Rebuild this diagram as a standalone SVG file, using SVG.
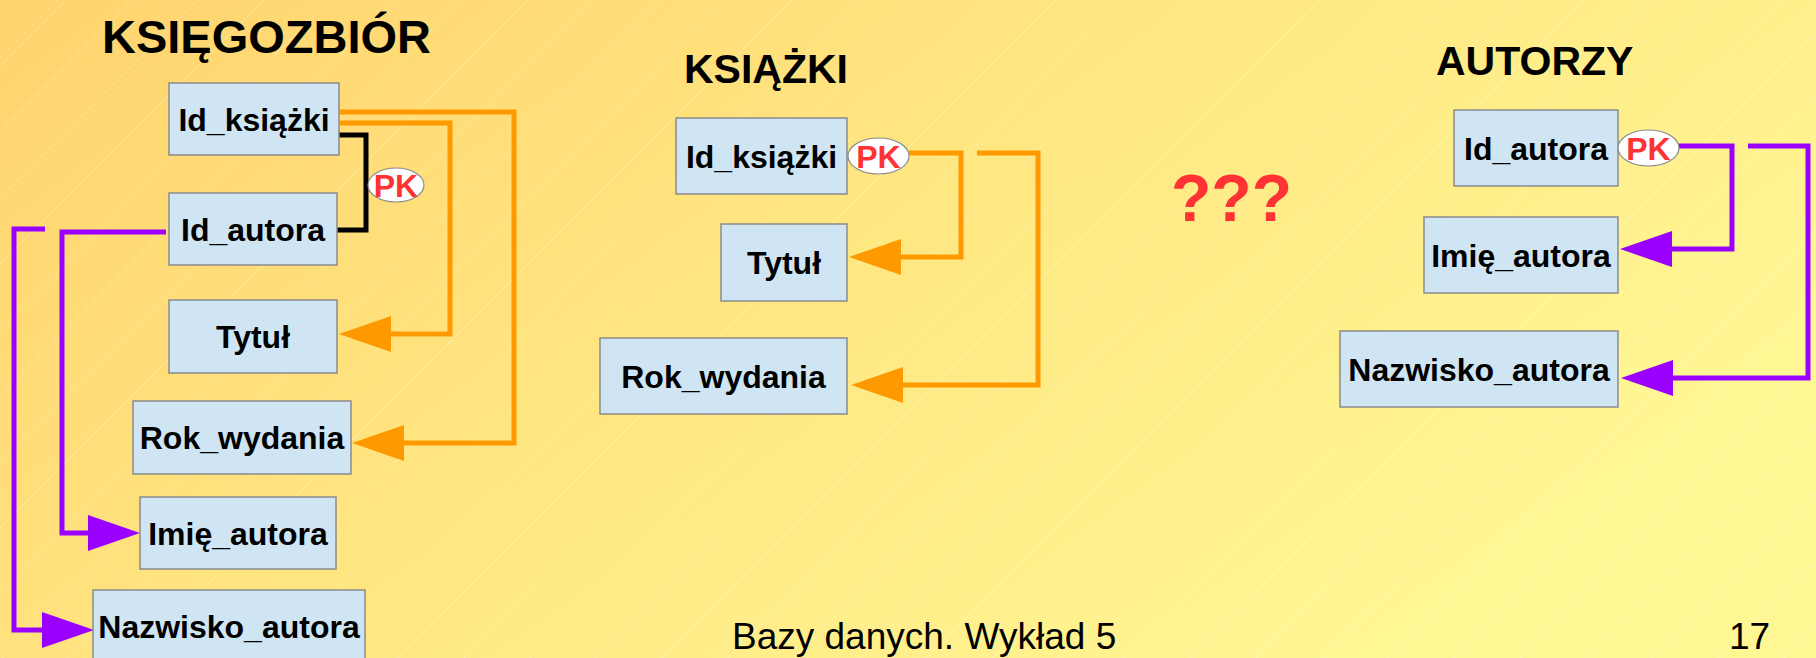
<svg xmlns="http://www.w3.org/2000/svg" width="1816" height="658" viewBox="0 0 1816 658">
  <defs>
    <linearGradient id="bg" x1="0" y1="0" x2="1" y2="0.5">
      <stop offset="0" stop-color="#FFD36E"/>
      <stop offset="0.5" stop-color="#FFE681"/>
      <stop offset="1" stop-color="#FFF794"/>
    </linearGradient>
    <pattern id="stripes" patternUnits="userSpaceOnUse" width="66" height="66">
      <line x1="-1" y1="67" x2="67" y2="-1" stroke="#FFFFFF" stroke-opacity="0.3" stroke-width="1"/>
    </pattern>
    <marker id="arrOrange" viewBox="0 0 52 36" refX="0" refY="18" markerWidth="52" markerHeight="36" markerUnits="userSpaceOnUse" orient="auto">
      <path d="M0,0 L52,18 L0,36 Z" fill="#FF9900"/>
    </marker>
    <marker id="arrPurple" viewBox="0 0 52 36" refX="0" refY="18" markerWidth="52" markerHeight="36" markerUnits="userSpaceOnUse" orient="auto">
      <path d="M0,0 L52,18 L0,36 Z" fill="#9900FF"/>
    </marker>
  </defs>
  <style>
    .box { fill: #CFE5F3; stroke: #8A8A8A; stroke-width: 1.5; }
    .lbl { font-family: "Liberation Sans", Arial, sans-serif; font-weight: bold; font-size: 32px; fill: #000; text-anchor: middle; }
    .title { font-family: "Liberation Sans", Arial, sans-serif; font-weight: bold; fill: #000; }
    .pk { fill: #FFFFFF; stroke: #8A8A8A; stroke-width: 1.2; }
    .pkt { font-family: "Liberation Sans", Arial, sans-serif; font-weight: bold; font-size: 32px; fill: #FF3333; text-anchor: middle; }
    .foot { font-family: "Liberation Sans", Arial, sans-serif; font-size: 37px; fill: #000; }
    .or { fill: none; stroke: #FF9900; stroke-width: 5; stroke-linejoin: miter; }
    .pu { fill: none; stroke: #9900FF; stroke-width: 5; stroke-linejoin: miter; }
    .bk { fill: none; stroke: #000; stroke-width: 5; stroke-linejoin: miter; }
  </style>

  <!-- background -->
  <rect x="0" y="0" width="1816" height="658" fill="url(#bg)"/>
  <rect x="0" y="0" width="1816" height="658" fill="url(#stripes)"/>

  <!-- table titles -->
  <text class="title" x="102" y="53" font-size="47">KSIĘGOZBIÓR</text>
  <text class="title" x="684" y="83" font-size="41">KSIĄŻKI</text>
  <text class="title" x="1436" y="75" font-size="41">AUTORZY</text>
  <text x="1171" y="221" font-family="Liberation Sans, Arial, sans-serif" font-weight="bold" font-size="66" fill="#FF3333">???</text>

  <!-- connectors -->
  <g id="connectors">
    <!-- KSIĘGOZBIÓR -->
    <path class="bk" d="M339,135 H366 V230 H337"/>
    <path class="or" d="M340,112 H514 V443 H404" marker-end="url(#arrOrange)"/>
    <path class="or" d="M340,123 H450 V334 H391" marker-end="url(#arrOrange)"/>
    <path class="pu" d="M166,232 H62 V533 H88" marker-end="url(#arrPurple)"/>
    <path class="pu" d="M45,229 H14 V630 H42" marker-end="url(#arrPurple)"/>
    <!-- KSIĄŻKI -->
    <path class="or" d="M909,153 H961 V257 H901" marker-end="url(#arrOrange)"/>
    <path class="or" d="M977,153 H1038 V385 H903" marker-end="url(#arrOrange)"/>
    <!-- AUTORZY -->
    <path class="pu" d="M1679,146 H1732 V249 H1672" marker-end="url(#arrPurple)"/>
    <path class="pu" d="M1748,146 H1808 V378 H1673" marker-end="url(#arrPurple)"/>
  </g>

  <!-- KSIĘGOZBIÓR columns -->
  <g id="kz-id-ksiazki">
    <rect class="box" x="169" y="83" width="170" height="72"/>
    <text class="lbl" x="254" y="130.5">Id_książki</text>
  </g>
  <g id="kz-id-autora">
    <rect class="box" x="169" y="193" width="168" height="72"/>
    <text class="lbl" x="253" y="240.5">Id_autora</text>
  </g>
  <g id="kz-pk">
    <ellipse class="pk" cx="396" cy="185" rx="28" ry="17"/>
    <text class="pkt" x="396" y="196.5">PK</text>
  </g>
  <g id="kz-tytul">
    <rect class="box" x="169" y="300" width="168" height="73"/>
    <text class="lbl" x="253" y="348">Tytuł</text>
  </g>
  <g id="kz-rok">
    <rect class="box" x="133" y="401" width="218" height="73"/>
    <text class="lbl" x="242" y="449">Rok_wydania</text>
  </g>
  <g id="kz-imie">
    <rect class="box" x="140" y="497" width="196" height="72"/>
    <text class="lbl" x="238" y="544.5">Imię_autora</text>
  </g>
  <g id="kz-nazwisko">
    <rect class="box" x="93" y="590" width="272" height="72"/>
    <text class="lbl" x="229" y="637.5">Nazwisko_autora</text>
  </g>

  <!-- KSIĄŻKI columns -->
  <g id="ks-id-ksiazki">
    <rect class="box" x="676" y="118" width="171" height="76"/>
    <text class="lbl" x="761.5" y="167.5">Id_książki</text>
  </g>
  <g id="ks-pk">
    <ellipse class="pk" cx="878.5" cy="156" rx="30.5" ry="18"/>
    <text class="pkt" x="878.5" y="167.5">PK</text>
  </g>
  <g id="ks-tytul">
    <rect class="box" x="721" y="224" width="126" height="77"/>
    <text class="lbl" x="784" y="274">Tytuł</text>
  </g>
  <g id="ks-rok">
    <rect class="box" x="600" y="338" width="247" height="76"/>
    <text class="lbl" x="723.5" y="387.5">Rok_wydania</text>
  </g>

  <!-- AUTORZY columns -->
  <g id="au-id-autora">
    <rect class="box" x="1454" y="110" width="164" height="76"/>
    <text class="lbl" x="1536" y="159.5">Id_autora</text>
  </g>
  <g id="au-pk">
    <ellipse class="pk" cx="1648.5" cy="148" rx="30.5" ry="18"/>
    <text class="pkt" x="1648.5" y="159.5">PK</text>
  </g>
  <g id="au-imie">
    <rect class="box" x="1424" y="217" width="194" height="76"/>
    <text class="lbl" x="1521" y="266.5">Imię_autora</text>
  </g>
  <g id="au-nazwisko">
    <rect class="box" x="1340" y="331" width="278" height="76"/>
    <text class="lbl" x="1479" y="380.5">Nazwisko_autora</text>
  </g>

  <!-- footer -->
  <text class="foot" x="732" y="649">Bazy danych. Wykład 5</text>
  <text class="foot" x="1729" y="649">17</text>
</svg>
